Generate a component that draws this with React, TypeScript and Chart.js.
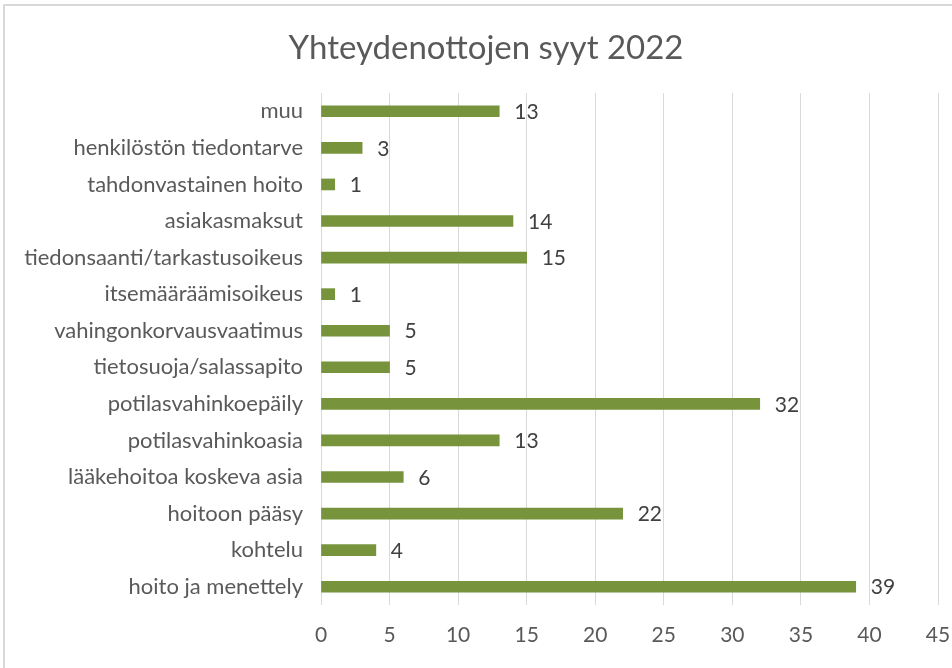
import React, { useEffect, useRef } from "react";
import { Chart, registerables } from "chart.js";

Chart.register(...registerables);

const TITLE = "Yhteydenottojen syyt 2022";
const categories = [
  "muu",
  "henkilöstön tiedontarve",
  "tahdonvastainen hoito",
  "asiakasmaksut",
  "tiedonsaanti/tarkastusoikeus",
  "itsemääräämisoikeus",
  "vahingonkorvausvaatimus",
  "tietosuoja/salassapito",
  "potilasvahinkoepäily",
  "potilasvahinkoasia",
  "lääkehoitoa koskeva asia",
  "hoitoon pääsy",
  "kohtelu",
  "hoito ja menettely",
];
const counts = [13, 3, 1, 14, 15, 1, 5, 5, 32, 13, 6, 22, 4, 39];
const X_MIN = 0;
const X_MAX = 45;
const X_STEP = 5;

const FONT = "Lato";
const TEXT = "#595959";

export default function App() {
  const ref = useRef<HTMLCanvasElement>(null);

  useEffect(() => {
    document.body.style.margin = "0";
    const valueLabels = {
      id: "valueLabels",
      afterDatasetsDraw(chart: any) {
        const ctx = chart.ctx;
        const meta = chart.getDatasetMeta(0);
        ctx.save();
        ctx.font = `21px ${FONT}`;
        ctx.fillStyle = "#404040";
        ctx.textBaseline = "middle";
        ctx.textAlign = "left";
        meta.data.forEach((el: any, i: number) => {
          ctx.fillText(String(counts[i]), el.x + 15, el.y + 1);
        });
        ctx.restore();
      },
    };
    const titlePlugin = {
      id: "customTitle",
      afterDraw(chart: any) {
        const ctx = chart.ctx;
        ctx.save();
        ctx.font = `33px ${FONT}`;
        ctx.fillStyle = TEXT;
        ctx.textAlign = "center";
        ctx.textBaseline = "middle";
        ctx.fillText(TITLE, 486, 48);
        ctx.restore();
      },
    };

    const chart = new Chart(ref.current as HTMLCanvasElement, {
      type: "bar",
      data: {
        labels: categories,
        datasets: [
          {
            data: counts,
            backgroundColor: "#77933C",
            borderWidth: 0,
            barThickness: 11,
          },
        ],
      },
      options: {
        indexAxis: "y",
        animation: false,
        responsive: false,
        layout: { padding: { top: 93, left: 0, right: 14, bottom: 0 } },
        plugins: {
          legend: { display: false },
          tooltip: { enabled: false },
          title: { display: false },
        },
        scales: {
          x: {
            min: X_MIN,
            max: X_MAX,
            ticks: {
              stepSize: X_STEP,
              color: TEXT,
              font: { family: FONT, size: 21 },
              padding: 18,
            },
            grid: { color: "#d9d9d9", lineWidth: 1, drawTicks: false },
            border: { display: false },
            afterFit: (s: any) => {
              s.height = 63;
              s.paddingRight = 0;
              s.paddingLeft = 0;
            },
          },
          y: {
            grid: { display: false, drawTicks: false },
            border: { display: false },
            ticks: {
              color: TEXT,
              font: { family: FONT, size: 22 },
              padding: 18,
              autoSkip: false,
            },
            afterFit: (s: any) => {
              s.width = 321;
            },
          },
        },
      },
      plugins: [valueLabels, titlePlugin],
    });
    return () => chart.destroy();
  }, []);

  return (
    <div style={{ position: "relative", width: 952, height: 668, background: "#fff", overflow: "hidden" }}>
      <div
        style={{
          position: "absolute",
          left: 3,
          top: 4,
          width: 960,
          height: 680,
          borderTop: "2px solid #d9d9d9",
          borderLeft: "2px solid #d9d9d9",
        }}
      />
      <canvas ref={ref} width={952} height={668} style={{ position: "absolute", left: 0, top: 0 }} />
    </div>
  );
}
